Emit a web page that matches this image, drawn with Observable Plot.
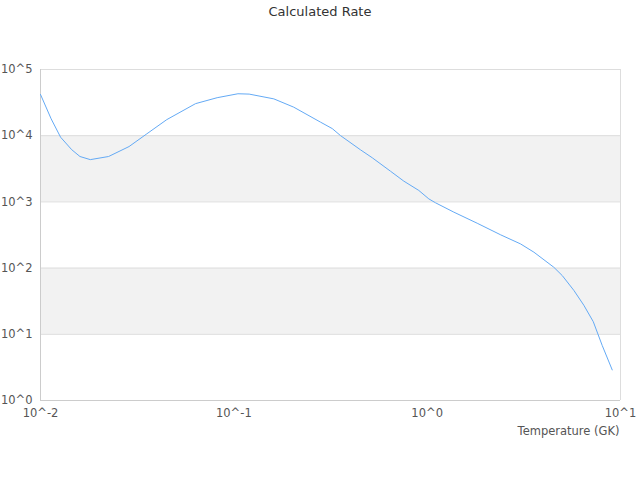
<!DOCTYPE html>
<html>
<head>
<meta charset="utf-8">
<script src="https://cdn.jsdelivr.net/npm/d3@7"></script>
<script src="https://cdn.jsdelivr.net/npm/@observablehq/plot@0.6"></script>
<style>
  body { margin: 0; background: #fff; font-family: "DejaVu Sans", sans-serif; }
  #title { height: 24px; line-height: 24px; text-align: center; font-size: 13px; color: #333; }
</style>
</head>
<body>
<div id="title">Calculated Rate</div>
<div id="chart"></div>
<script>
const temperature = [0.01, 0.01135, 0.0127, 0.0145, 0.016, 0.0181, 0.0225, 0.0287, 0.0352, 0.045, 0.0634, 0.082, 0.105, 0.12, 0.161, 0.204, 0.281, 0.323, 0.356, 0.452, 0.52, 0.646, 0.757, 0.905, 1.02, 1.104, 1.374, 1.815, 2.4, 3.04, 3.565, 4.52, 5.0, 5.74, 6.46, 7.23, 8.04, 9.06];
const rate = [42000, 18000, 9500, 6150, 4850, 4350, 4850, 6850, 10500, 17500, 30500, 37500, 43000, 42500, 36000, 27000, 16000, 12800, 10050, 6120, 4640, 2910, 2060, 1490, 1110, 970, 700, 476, 318, 232, 174, 103, 77, 46, 27.5, 15.5, 6.8, 2.9];
const xTicks = [0.01, 0.1, 1, 10];
const yTicks = [1, 10, 100, 1000, 10000, 100000];
const bandLow = [1000, 10];
const bandHigh = [10000, 100];

const data = temperature.map((t, i) => ({t, r: rate[i]}));
const bands = bandLow.map((lo, i) => ({lo, hi: bandHigh[i]}));
const fmt = d => "10^" + Math.round(Math.log10(d));

const chart = Plot.plot({
  width: 640,
  height: 456,
  marginTop: 45,
  marginBottom: 80,
  marginLeft: 40,
  marginRight: 20,
  style: {fontFamily: "DejaVu Sans, sans-serif", fontSize: "11.5px", color: "#555", background: "#fff"},
  x: {type: "log", domain: [0.01, 10]},
  y: {type: "log", domain: [1, 100000]},
  marks: [
    Plot.rectY(bands, {x1: 0.01, x2: 10, y1: "lo", y2: "hi", fill: "#f2f2f2"}),
    Plot.ruleY(yTicks, {stroke: "#dddddd", strokeWidth: 1}),
    Plot.ruleX([10], {stroke: "#dddddd", strokeWidth: 1}),
    Plot.ruleX([0.01], {stroke: "#cccccc", strokeWidth: 1}),
    Plot.ruleY([1], {stroke: "#cccccc", strokeWidth: 1}),
    Plot.axisY(yTicks, {tickFormat: fmt, tickSize: 0, tickPadding: 8, label: null, fill: "#555", fontSize: 11.5}),
    Plot.axisX(xTicks, {tickFormat: fmt, tickSize: 0, tickPadding: 8, label: null, fill: "#555", fontSize: 11.5}),
    Plot.line(data, {x: "t", y: "r", stroke: "#64aaf5", strokeWidth: 1}),
    Plot.text(["Temperature (GK)"], {frameAnchor: "bottom-right", dx: -1, dy: 34, textAnchor: "end", fill: "#555", fontSize: 11.5})
  ]
});
document.getElementById("chart").appendChild(chart);
</script>
</body>
</html>
